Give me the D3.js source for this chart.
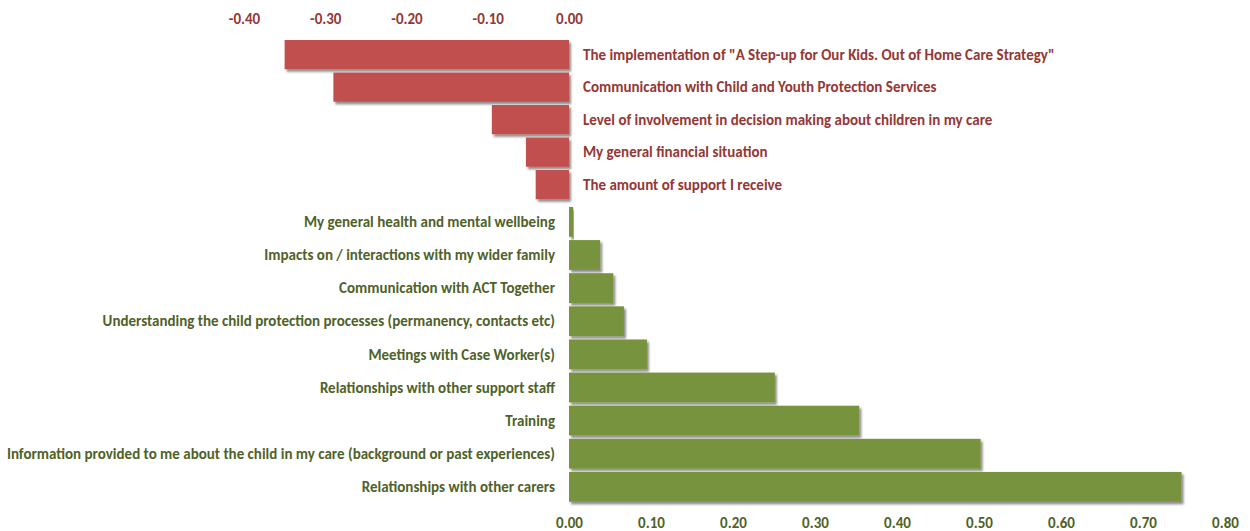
<!DOCTYPE html>
<html>
<head>
<meta charset="utf-8">
<script src="https://cdn.jsdelivr.net/npm/d3@7"></script>
<style>
  html, body { margin: 0; padding: 0; background: #fff; }
  svg text { font-family: Calibri, Carlito, Lato, "Open Sans", sans-serif; font-weight: 700; font-size: 15px; }
</style>
</head>
<body>
<svg id="chart" width="1250" height="531"></svg>
<script>
// Factors that worsened (negative change)
const negCategories = [
  'The implementation of "A Step-up for Our Kids. Out of Home Care Strategy"',
  "Communication with Child and Youth Protection Services",
  "Level of involvement in decision making about children in my care",
  "My general financial situation",
  "The amount of support I receive"
];
const negValues = [-0.35, -0.29, -0.095, -0.053, -0.041];
const negTicks = [-0.4, -0.3, -0.2, -0.1, 0];

// Factors that improved (positive change)
const posCategories = [
  "My general health and mental wellbeing",
  "Impacts on / interactions with my wider family",
  "Communication with ACT Together",
  "Understanding the child protection processes (permanency, contacts etc)",
  "Meetings with Case Worker(s)",
  "Relationships with other support staff",
  "Training",
  "Information provided to me about the child in my care (background or past experiences)",
  "Relationships with other carers"
];
const posValues = [0.005, 0.038, 0.054, 0.067, 0.095, 0.251, 0.354, 0.502, 0.747];
const posTicks = [0, 0.1, 0.2, 0.3, 0.4, 0.5, 0.6, 0.7, 0.8];

const RED = "#C0504D", RED_TEXT = "#953735";
const GREEN = "#77933C", GREEN_TEXT = "#4F6228";

// two decimals with a plain hyphen for negatives
const fmt = d => d.toFixed(2);

const svg = d3.select("#chart");

// soft drop shadow under each bar
const defs = svg.append("defs");
const f = defs.append("filter").attr("id", "shadow")
  .attr("x", "-5%").attr("y", "-20%").attr("width", "120%").attr("height", "160%");
f.append("feDropShadow").attr("dx", 2).attr("dy", 2.5).attr("stdDeviation", 1.3)
  .attr("flood-color", "#000").attr("flood-opacity", 0.45);

// ---- negative panel (top axis) ----
const xNeg = d3.scaleLinear().domain([-0.4, 0]).range([244, 569]);
const yNeg = d3.scaleBand().domain(negCategories).range([38.4, 200.9]).paddingInner(0.1).paddingOuter(0.05);

const negAxis = svg.append("g").attr("transform", "translate(0,24)")
  .call(d3.axisTop(xNeg).tickValues(negTicks).tickFormat(fmt).tickSize(0).tickPadding(0));
negAxis.select(".domain").remove();
negAxis.selectAll("text").attr("fill", RED_TEXT).style("font-size", "15px").attr("dy", 0);

svg.append("g").selectAll("rect").data(negValues).join("rect")
  .attr("x", d => xNeg(d))
  .attr("y", (d, i) => yNeg(negCategories[i]))
  .attr("width", d => xNeg(0) - xNeg(d))
  .attr("height", yNeg.bandwidth())
  .attr("fill", RED)
  .attr("filter", "url(#shadow)");

svg.append("g").selectAll("text").data(negCategories).join("text")
  .attr("x", xNeg(0) + 14)
  .attr("y", d => yNeg(d) + yNeg.bandwidth() / 2)
  .attr("dy", "0.35em")
  .attr("fill", RED_TEXT)
  .text(d => d);

// ---- positive panel (bottom axis) ----
const xPos = d3.scaleLinear().domain([0, 0.8]).range([569, 1225]);
const yPos = d3.scaleBand().domain(posCategories).range([205.3, 503.4]).paddingInner(0.1).paddingOuter(0.05);

svg.append("g").selectAll("rect").data(posValues).join("rect")
  .attr("x", xPos(0))
  .attr("y", (d, i) => yPos(posCategories[i]))
  .attr("width", d => xPos(d) - xPos(0))
  .attr("height", yPos.bandwidth())
  .attr("fill", GREEN)
  .attr("filter", "url(#shadow)");

svg.append("g").selectAll("text").data(posCategories).join("text")
  .attr("x", xPos(0) - 14)
  .attr("y", d => yPos(d) + yPos.bandwidth() / 2)
  .attr("dy", "0.35em")
  .attr("text-anchor", "end")
  .attr("fill", GREEN_TEXT)
  .text(d => d);

const posAxis = svg.append("g").attr("transform", "translate(0,517)")
  .call(d3.axisBottom(xPos).tickValues(posTicks).tickFormat(fmt).tickSize(0).tickPadding(0));
posAxis.select(".domain").remove();
posAxis.selectAll("text").attr("fill", GREEN_TEXT).style("font-size", "15px").attr("dy", "0.71em");
</script>
</body>
</html>
